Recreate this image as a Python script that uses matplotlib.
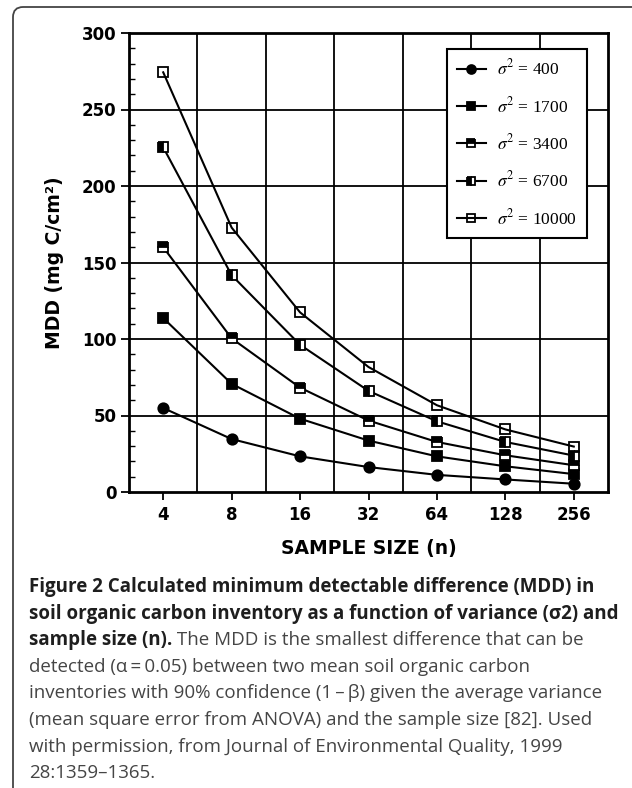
import numpy as np
import matplotlib
matplotlib.use("Agg")
import matplotlib.pyplot as plt
from matplotlib.patches import FancyBboxPatch
from matplotlib.text import Annotation
from matplotlib.ticker import MultipleLocator, FixedLocator, NullFormatter

plt.rcParams['mathtext.fontset'] = 'stix'

# ---- data ----
sample_sizes = [4, 8, 16, 32, 64, 128, 256]
variance_labels = ["400", "1700", "3400", "6700", "10000"]
mdd_400 = [54.9, 34.6, 23.3, 16.3, 11.2, 8.2, 5.4]
mdd_1700 = [113.7, 70.7, 47.9, 33.6, 23.3, 16.8, 11.7]
mdd_3400 = [160.0, 100.4, 68.2, 46.7, 32.7, 24.0, 17.5]
mdd_6700 = [225.3, 141.7, 96.2, 66.1, 46.2, 32.7, 23.8]
mdd_10000 = [274.3, 172.8, 117.4, 81.7, 56.7, 40.9, 29.7]
series = [mdd_400, mdd_1700, mdd_3400, mdd_6700, mdd_10000]
y_ticks = [0, 50, 100, 150, 200, 250, 300]

caption_lines = [
    [("Figure 2 Calculated minimum detectable difference (MDD) in", True)],
    [("soil organic carbon inventory as a function of variance (\u03c32) and", True)],
    [("sample size (n).", True), (" The MDD is the smallest difference that can be", False)],
    [("detected (\u03b1\u2009=\u20090.05) between two mean soil organic carbon", False)],
    [("inventories with 90% confidence (1\u2009\u2013\u2009\u03b2) given the average variance", False)],
    [("(mean square error from ANOVA) and the sample size [82]. Used", False)],
    [("with permission, from Journal of Environmental Quality, 1999", False)],
    [("28:1359\u20131365.", False)],
]

W, H = 632, 788
fig = plt.figure(figsize=(W / 100, H / 100), dpi=100)

# outer rounded frame
frame = FancyBboxPatch((13 / W, -20 / H), (W + 20 - 13) / W, (H - 7 + 20) / H,
                       boxstyle="round,pad=0,rounding_size=0.016",
                       transform=fig.transFigure, fill=False, edgecolor="#444444",
                       linewidth=1.3, mutation_aspect=W / H)
fig.add_artist(frame)

left, right, top, bottom = 129, 608, 33, 492
ax = fig.add_axes([left / W, 1 - bottom / H, (right - left) / W, (bottom - top) / H])
ax.set_xscale("log", base=2)

markers = [
    dict(marker="o", fillstyle="full", markerfacecolor="black"),
    dict(marker="s", fillstyle="full", markerfacecolor="black"),
    dict(marker="s", fillstyle="top", markerfacecolor="black", markerfacecoloralt="white"),
    dict(marker="s", fillstyle="left", markerfacecolor="black", markerfacecoloralt="white"),
    dict(marker="s", fillstyle="none"),
]
for vals, lab, mk in zip(series, variance_labels, markers):
    ax.plot(sample_sizes, vals, color="black", linewidth=1.5, markersize=7.5,
            markeredgecolor="black", markeredgewidth=1.3,
            label=r"$\sigma^2$ = " + lab, zorder=3, **mk)

ax.set_xlim(2 ** 1.5, 2 ** 8.5)
ax.set_ylim(0, 300)

# grid: vertical lines between the sample sizes, horizontal at major y ticks
for i in range(len(sample_sizes) - 1):
    ax.axvline(np.sqrt(sample_sizes[i] * sample_sizes[i + 1]), color="black",
               linewidth=1.3, zorder=1)
for yv in y_ticks[1:-1]:
    ax.axhline(yv, color="black", linewidth=1.3, zorder=1)

ax.xaxis.set_major_locator(FixedLocator(sample_sizes))
ax.xaxis.set_minor_locator(FixedLocator([]))
ax.set_xticklabels([str(s) for s in sample_sizes])
ax.xaxis.set_minor_formatter(NullFormatter())
ax.yaxis.set_major_locator(FixedLocator(y_ticks))
ax.yaxis.set_minor_locator(MultipleLocator(10))

for lab in ax.get_xticklabels() + ax.get_yticklabels():
    lab.set_fontfamily("DejaVu Sans")
    lab.set_fontweight("bold")
    lab.set_fontsize(12)
ax.tick_params(axis="both", which="major", direction="out", length=6, width=1.3,
               color="black", pad=3)
ax.tick_params(axis="x", which="major", pad=4)
ax.tick_params(axis="y", which="minor", direction="in", length=4, width=1.0)
for sp in ax.spines.values():
    sp.set_linewidth(2.0)

ax.set_xlabel("SAMPLE SIZE (n)", fontfamily="DejaVu Sans", fontweight="bold",
              fontsize=13.5, labelpad=11)
ax.set_ylabel("MDD (mg C/cm\u00b2)", fontfamily="DejaVu Sans", fontweight="bold",
              fontsize=13.5, labelpad=13)

leg = ax.legend(loc="upper right", bbox_to_anchor=(0.956, 0.965), borderaxespad=0,
                fancybox=False, framealpha=1, edgecolor="black",
                prop=dict(family="Liberation Serif", size=12.5),
                labelspacing=1.0, handlelength=1.7, handletextpad=0.65,
                borderpad=0.55, markerscale=0.85)
leg.get_frame().set_linewidth(1.5)
leg.set_zorder(5)

# caption
x0 = 29 / W
y_first = 587
spacing = 26.6
for i, parts in enumerate(caption_lines):
    yy = 1 - (y_first + i * spacing) / H
    prev = None
    for txt, bold in parts:
        kw = dict(fontfamily="Open Sans", fontsize=13.5,
                  fontweight="bold" if bold else "normal",
                  color="#1e1e1e" if bold else "#454545", va="center")
        if prev is None:
            prev = fig.text(x0, yy, txt, ha="left", **kw)
        else:
            a = Annotation(txt, xy=(1, 0.5), xycoords=prev, ha="left", **kw)
            fig.add_artist(a)
            prev = a

fig.savefig("out.png", dpi=100)
